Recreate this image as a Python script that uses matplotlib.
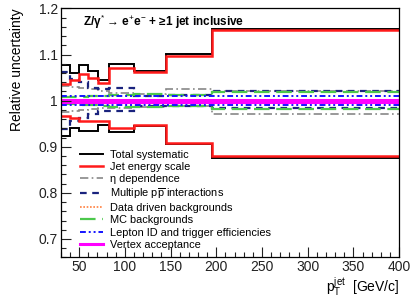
import matplotlib
matplotlib.use("Agg")
import matplotlib.pyplot as plt
from matplotlib.ticker import MultipleLocator

plt.rcParams["font.family"] = ["Liberation Sans", "DejaVu Sans"]
plt.rcParams["mathtext.fontset"] = "custom"
plt.rcParams["mathtext.rm"] = "Liberation Sans"
plt.rcParams["mathtext.it"] = "Liberation Sans:italic"
plt.rcParams["mathtext.bf"] = "Liberation Sans:bold"

# bin edges in jet pT [GeV/c]
edges = [30, 40, 50, 60, 71, 83, 110, 145, 195, 400]

# upper / lower relative uncertainty per bin
total_up = [1.078, 1.060, 1.078, 1.064, 1.045, 1.080, 1.065, 1.101, 1.156]
total_dn = [0.923, 0.941, 0.935, 0.935, 0.947, 0.932, 0.946, 0.907, 0.875]
jes_up = [1.037, 1.044, 1.058, 1.049, 1.038, 1.071, 1.063, 1.097, 1.153]
jes_dn = [0.967, 0.963, 0.955, 0.955, 0.956, 0.941, 0.948, 0.909, 0.880]
eta_up = [1.032, 1.030, 1.027, 1.025, 1.020, 1.016, 1.014, 1.025, 1.020]
eta_dn = [0.975, 0.978, 0.980, 0.982, 0.984, 0.985, 0.986, 0.988, 0.970]
pileup_up = [1.061, 1.047, 1.040, 1.028, 1.026, 1.028, 1.011, 1.013, 1.020]
pileup_dn = [0.938, 0.956, 0.962, 0.970, 0.977, 0.977, 0.988, 0.989, 0.983]
ddbkg_up = [1.001, 1.001, 1.001, 1.001, 1.001, 1.001, 1.001, 1.001, 1.001]
ddbkg_dn = [0.999, 0.999, 0.999, 0.999, 0.999, 0.999, 0.999, 0.999, 0.999]
mcbkg_up = [1.008, 1.008, 1.008, 1.009, 1.010, 1.012, 1.014, 1.012, 1.019]
mcbkg_dn = [0.992, 0.992, 0.991, 0.990, 0.989, 0.987, 0.986, 0.988, 0.982]
lepid_up = [1.009, 1.009, 1.009, 1.009, 1.009, 1.009, 1.009, 1.009, 1.009]
lepid_dn = [0.991, 0.991, 0.991, 0.991, 0.991, 0.991, 0.991, 0.991, 0.991]
vtx_up = [1.002, 1.002, 1.002, 1.002, 1.002, 1.002, 1.002, 1.002, 1.002]
vtx_dn = [0.998, 0.998, 0.998, 0.998, 0.998, 0.998, 0.998, 0.998, 0.998]

fig = plt.figure(figsize=(4.11, 3.0), dpi=100)
ax = fig.add_axes([0.148, 0.142, 0.823, 0.830])

def band(up, dn, label, **kw):
    ax.stairs(up, edges, baseline=None, label=label, **kw)
    ax.stairs(dn, edges, baseline=None, **kw)

band(total_up, total_dn, "Total systematic", color="black", lw=1.4)
band(eta_up, eta_dn, "η dependence", color="#888888", lw=1.2, ls=(0, (5, 2, 1, 2)))
band(pileup_up, pileup_dn, r"Multiple p$\overline{\rm p}$ interactions", color="#1a237e", lw=1.6, ls=(0, (3, 2.5)))
band(ddbkg_up, ddbkg_dn, "Data driven backgrounds", color="#ff8040", lw=1.2, ls=(0, (1, 1)))
band(mcbkg_up, mcbkg_dn, "MC backgrounds", color="#4cc84c", lw=1.6, ls=(0, (7, 3)))
band(lepid_up, lepid_dn, "Lepton ID and trigger efficiencies", color="#1414ff", lw=1.4, ls=(0, (3, 1.5, 1, 1.5, 1, 1.5)))
band(jes_up, jes_dn, "Jet energy scale", color="#ff1a1a", lw=1.8)
band(vtx_up, vtx_dn, "Vertex acceptance", color="#ff00ff", lw=2.2)

ax.set_xlim(30, 400)
ax.set_ylim(0.66, 1.2)
ax.xaxis.set_major_locator(MultipleLocator(50))
ax.xaxis.set_minor_locator(MultipleLocator(10))
ax.yaxis.set_minor_locator(MultipleLocator(0.02))
ax.set_yticks([0.7, 0.8, 0.9, 1.0, 1.1, 1.2])
ax.set_yticklabels(["0.7", "0.8", "0.9", "1", "1.1", "1.2"])
ax.tick_params(which="both", direction="in", labelsize=10, top=False, right=False,
               colors="#222222")
ax.tick_params(which="major", length=7, width=0.8, pad=2)
ax.tick_params(which="minor", length=3.5, width=0.8)
for s in ax.spines.values():
    s.set_linewidth(0.9)

ax.set_ylabel("Relative uncertainty", fontsize=10)
ax.yaxis.set_label_coords(-0.11, 1.0)
ax.yaxis.label.set_ha("right")
ax.set_xlabel(r"p$_{\rm T}^{\rm jet}$  [GeV/c]", fontsize=10, ha="right", x=1.0, labelpad=1)

ax.text(0.065, 0.945, r"Z/γ$^{*}$ → e$^{+}$e$^{-}$ + ≥1 jet inclusive",
        transform=ax.transAxes, fontsize=8.5, fontweight="bold", va="center")

h, l = ax.get_legend_handles_labels()
order = ["Total systematic", "Jet energy scale", "η dependence",
         r"Multiple p$\overline{\rm p}$ interactions", "Data driven backgrounds",
         "MC backgrounds", "Lepton ID and trigger efficiencies", "Vertex acceptance"]
hd = dict(zip(l, h))
ax.legend([hd[k] for k in order], order, loc="lower left", bbox_to_anchor=(0.035, 0.0),
          frameon=False, fontsize=7.9, handlelength=2.1, handletextpad=0.6,
          labelspacing=0.2, borderpad=0.2)

fig.savefig("out.png", dpi=100)
